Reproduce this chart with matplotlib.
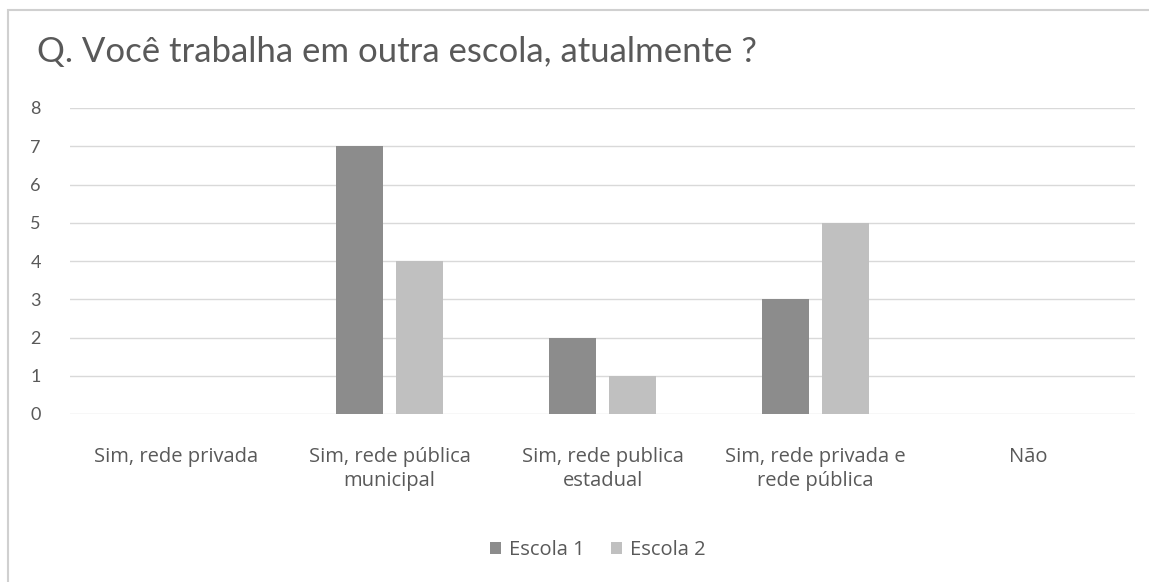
import matplotlib
matplotlib.use('Agg')
import matplotlib.pyplot as plt
from matplotlib.patches import Rectangle
import numpy as np

plt.rcParams['font.family'] = ['Lato', 'DejaVu Sans']

# respostas por categoria
categorias = ['Sim, rede privada', 'Sim, rede pública\nmunicipal',
              'Sim, rede publica\nestadual', 'Sim, rede privada e\nrede pública', 'Não']
escola1 = [0, 7, 2, 3, 0]
escola2 = [0, 4, 1, 5, 0]
yticks = [0, 1, 2, 3, 4, 5, 6, 7, 8]

cor1 = '#8c8c8c'
cor2 = '#c0c0c0'
texto = '#595959'

fig = plt.figure(figsize=(11.49, 5.82), dpi=100)
# moldura do gráfico
fig.patches.append(Rectangle((8 / 1149, -0.1), 1.2, (1 - 10 / 582) + 0.1,
                             transform=fig.transFigure, fill=False,
                             edgecolor='#d0d0d0', lw=1.5))

ax = fig.add_axes([70 / 1149, 1 - 414 / 582, 1065 / 1149, 306 / 582])
x = np.arange(len(categorias))
w = 0.22
ax.bar(x - 0.142, escola1, w, color=cor1, label='Escola 1', zorder=3)
ax.bar(x + 0.142, escola2, w, color=cor2, label='Escola 2', zorder=3)

ax.set_xlim(-0.5, len(categorias) - 0.5)
ax.set_ylim(0, 8)
ax.set_yticks(yticks)
ax.yaxis.grid(True, color='#d9d9d9', lw=1)
ax.set_axisbelow(True)
for s in ax.spines.values():
    s.set_visible(False)
ax.tick_params(length=0)
ax.tick_params(axis='y', pad=21, labelsize=13, labelcolor=texto)
ax.set_xticks(x)
ax.set_xticklabels(categorias, fontsize=14.5, color=texto, linespacing=1.25,
                   family=['Open Sans', 'DejaVu Sans'])
ax.tick_params(axis='x', pad=24)

fig.text(37 / 1149, 1 - 52 / 582, 'Q. Você trabalha em outra escola, atualmente ?',
         fontsize=25, color=texto, va='center', ha='left')

fig.legend(loc='center', bbox_to_anchor=(0.52, 1 - 550 / 582), ncol=2, frameon=False,
           prop={'family': ['Open Sans', 'DejaVu Sans'], 'size': 14.5},
           handlelength=0.55, handleheight=0.55, handletextpad=0.4,
           columnspacing=1.3, labelcolor=texto)

fig.savefig('out.png', dpi=100, facecolor='white')
